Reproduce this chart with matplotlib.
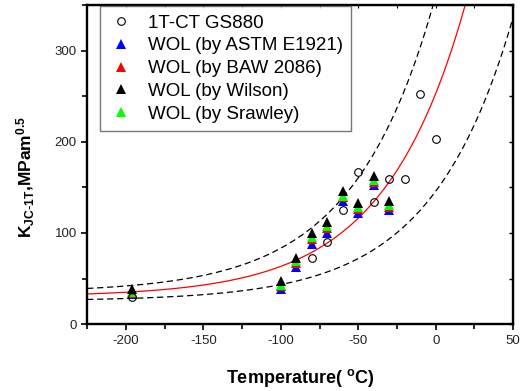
import numpy as np
import matplotlib.pyplot as plt
from matplotlib.ticker import MultipleLocator
from matplotlib.lines import Line2D

plt.rcParams['font.family'] = ['Liberation Sans', 'DejaVu Sans']
plt.rcParams['mathtext.default'] = 'regular'
plt.rcParams['axes.unicode_minus'] = False

# 1T-CT GS880 specimens
ct_temp = [-196, -80, -70, -60, -50, -40, -30, -20, -10, 0]
ct_k = [30, 73, 90, 125, 167, 134, 159, 159, 252, 203]

# WOL specimens, K_JC converted by different methods
wol_temp = [-196, -100, -90, -80, -70, -60, -50, -40, -30]
wol_astm = [33, 39, 63, 88, 100, 135, 122, 153, 125]
wol_baw = [34, 42, 67, 93, 105, 139, 126, 156, 129]
wol_wilson = [38, 47, 73, 100, 112, 146, 133, 162, 135]
wol_srawley = [35, 43, 69, 96, 108, 141, 129, 158, 131]

# master curve reference temperature
t0 = -61

fig = plt.figure(figsize=(5.28, 3.91), dpi=100)
ax = fig.add_axes([0.165, 0.171, 0.807, 0.816])

# master curve with 5% / 95% tolerance bounds (ASTM E1921)
t = np.linspace(-225, 50, 400)
ax.plot(t, 30 + 70 * np.exp(0.019 * (t - t0)), color='red', lw=0.9, zorder=2)
ax.plot(t, 34.6 + 102.2 * np.exp(0.019 * (t - t0)), color='k', lw=0.9,
        ls=(0, (5, 3)), zorder=2)
ax.plot(t, 25.4 + 37.8 * np.exp(0.019 * (t - t0)), color='k', lw=0.9,
        ls=(0, (5, 3)), zorder=2)

tri = dict(marker='^', ls='none', ms=7, mew=0)
ax.plot(wol_temp, wol_astm, color='#0000ff', zorder=3, **tri)
ax.plot(wol_temp, wol_baw, color='#ff0000', zorder=4, **tri)
ax.plot(wol_temp, wol_srawley, color='#00ff00', zorder=5, **tri)
ax.plot(wol_temp, wol_wilson, color='k', zorder=6, **tri)
ax.plot(ct_temp, ct_k, marker='o', ls='none', ms=5.5, mfc='none', mec='k',
        mew=0.8, zorder=7)

handles = [
    Line2D([], [], marker='o', ls='none', ms=5.5, mfc='none', mec='k', mew=0.8),
    Line2D([], [], color='#0000ff', **tri),
    Line2D([], [], color='#ff0000', **tri),
    Line2D([], [], color='k', **tri),
    Line2D([], [], color='#00ff00', **tri),
]
labels = ['1T-CT GS880', 'WOL (by ASTM E1921)', 'WOL (by BAW 2086)',
          'WOL (by Wilson)', 'WOL (by Srawley)']
leg = ax.legend(handles, labels, loc='upper left', bbox_to_anchor=(0.03, 0.997),
                fontsize=13.5, frameon=True, fancybox=False, labelspacing=0.3,
                handlelength=1.35, handletextpad=0.75, borderpad=0.45,
                borderaxespad=0)
leg.get_frame().set_edgecolor('#555555')
leg.get_frame().set_linewidth(1.0)

ax.set_xlim(-225, 50)
ax.set_ylim(0, 350)
ax.xaxis.set_major_locator(MultipleLocator(50))
ax.xaxis.set_minor_locator(MultipleLocator(25))
ax.yaxis.set_major_locator(MultipleLocator(100))
ax.yaxis.set_minor_locator(MultipleLocator(50))
ax.tick_params(which='both', direction='out', width=1.2, labelsize=9.5,
               labelcolor='#222222')
ax.tick_params(which='major', length=4)
ax.tick_params(which='minor', length=3.5)
for s in ax.spines.values():
    s.set_linewidth(1.7)

top = ax.secondary_xaxis('top')
top.xaxis.set_major_locator(MultipleLocator(50))
top.xaxis.set_minor_locator(MultipleLocator(25))
top.tick_params(which='both', direction='in', length=2.5, width=0.8,
                labeltop=False)
right = ax.secondary_yaxis('right')
right.yaxis.set_major_locator(MultipleLocator(100))
right.yaxis.set_minor_locator(MultipleLocator(50))
right.tick_params(which='both', direction='in', length=3, width=1.0,
                  labelright=False)

ax.set_xlabel('Temperature( $^{o}$C)', fontsize=13, fontweight='bold')
ax.xaxis.set_label_coords(0.5, -0.135)
ax.set_ylabel('K$_{JC\\text{-}1T}$,MPam$^{0.5}$', fontsize=12.5,
              fontweight='bold')
ax.yaxis.set_label_coords(-0.117, 0.46)

fig.savefig('out.png', dpi=100)
